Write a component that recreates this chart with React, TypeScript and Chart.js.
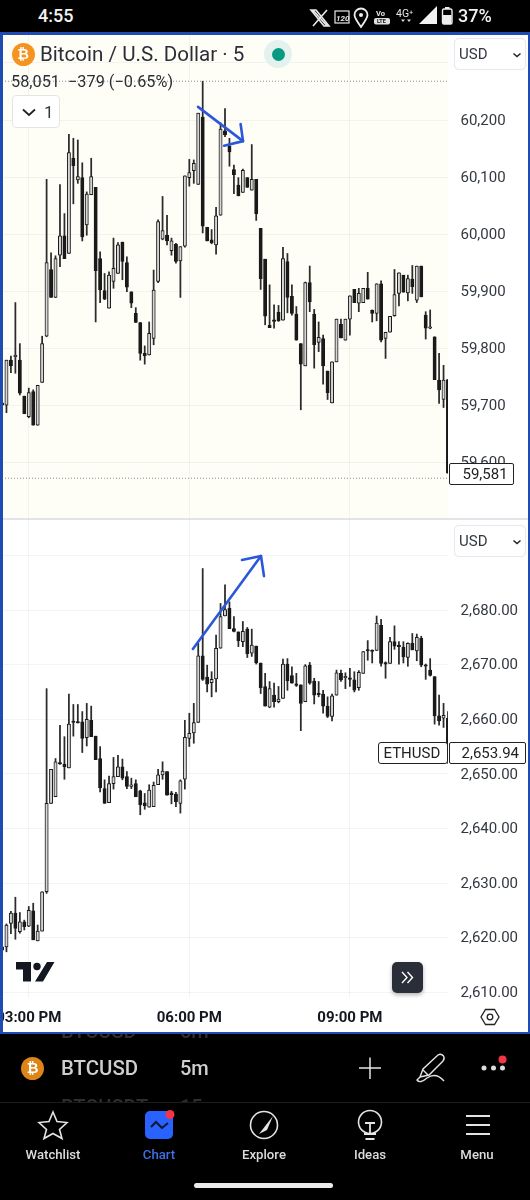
import React, { useEffect, useRef } from "react";
import { Chart, registerables } from "chart.js";

Chart.register(...registerables);

// Candle times run every five minutes; index 6 is 03:00 PM.
const tickLabels = ["03:00 PM", "06:00 PM", "09:00 PM"];
const candleTimes: string[] = Array.from({ length: 101 }, (_, i) => {
  const total = 14 * 60 + 30 + i * 5;
  const h = Math.floor(total / 60) % 12 || 12;
  const m = total % 60;
  return `${String(h).padStart(2, "0")}:${String(m).padStart(2, "0")} PM`;
});

const btcOpen = [
  59704,59700,59779,59785,59779,59716,59680,59724,59665,59740,
  59821,59938,59889,59963,59997,59966,60133,60095,60099,60016,
  60069,60082,59957,59901,59870,59917,59931,59986,59950,59899,
  59861,59845,59791,59788,59817,59917,59991,59998,59971,59982,
  59953,59979,60099,60111,60087,60205,60012,59990,59981,60033,
  60181,60154,60113,60086,60073,60099,60077,60096,60010,59956,
  59840,59848,59863,59849,59952,59891,59860,59808,59769,59915,
  59860,59810,59817,59760,59704,59776,59842,59814,59851,59903,
  59879,59880,59905,59867,59861,59913,59817,59828,59857,59896,
  59928,59897,59921,59884,59944,59858,59835,59820,59744,59710,
  59745,
];
const btcHigh = [
  59705,59779,59786,59880,59808,59716,59730,59727,59735,59821,
  60096,59967,59962,60087,60036,60175,60168,60165,60125,60074,
  60133,60082,59969,59931,59934,59993,59985,59986,59960,59899,
  59871,59845,59804,59846,59937,60025,60066,60033,59993,59984,
  59978,60102,60131,60130,60212,60268,60012,60008,60047,60195,
  60220,60168,60121,60099,60114,60099,60157,60096,60010,59956,
  59911,59876,59875,59977,59966,59911,59873,59808,59916,59944,
  59868,59846,59823,59760,59776,59851,59851,59851,59892,59903,
  59905,59905,59933,59867,59913,59918,59828,59856,59938,59932,
  59928,59928,59945,59944,59944,59864,59867,59820,59791,59770,
  59745,
];
const btcLow = [
  59698,59687,59757,59756,59718,59685,59678,59665,59665,59740,
  59820,59889,59889,59943,59957,59966,60053,60089,59988,59998,
  60069,59846,59880,59885,59870,59905,59931,59920,59899,59871,
  59845,59779,59772,59788,59806,59915,59990,59981,59963,59949,
  59889,59977,60084,60089,60087,60002,59988,59983,59965,60033,
  60171,60119,60071,60067,60073,60082,60077,60024,59903,59841,
  59836,59835,59847,59849,59862,59858,59814,59692,59769,59864,
  59765,59794,59737,59710,59704,59776,59818,59814,59823,59880,
  59864,59880,59886,59846,59848,59811,59782,59828,59856,59874,
  59898,59883,59896,59880,59890,59816,59834,59745,59703,59696,
  59581,
];
const btcClose = [
  59700,59779,59769,59785,59721,59685,59722,59665,59735,59808,
  59950,59889,59957,59997,59957,60143,60120,60101,59995,60070,
  60101,59936,59902,59886,59928,59940,59981,59952,59907,59879,
  59845,59791,59787,59826,59902,60022,60006,59988,59988,59952,
  59978,60102,60108,60124,60212,60014,59988,59985,60032,60184,
  60174,60144,60104,60067,60112,60082,60096,60036,59922,59856,
  59836,59847,59848,59957,59889,59861,59814,59772,59915,59881,
  59806,59819,59769,59722,59776,59851,59818,59851,59892,59880,
  59896,59905,59886,59861,59913,59814,59828,59856,59894,59932,
  59898,59922,59908,59944,59890,59835,59835,59745,59727,59744,
  59581,
];

const ethOpen = [
  2618.3,2618.3,2622.6,2624.5,2621.1,2622.9,2622.1,2624.9,2619.4,2621.2,
  2628.4,2644.6,2645.8,2652,2651.8,2651.1,2659.5,2659.4,2659.5,2656.6,
  2659.8,2656.9,2652.8,2647.3,2644.7,2648.2,2649.5,2651.3,2649.5,2647.7,
  2648.2,2646.9,2644.7,2643.9,2644,2648,2649.8,2650.4,2646.5,2646.3,
  2644.6,2649,2656.5,2657.5,2659.4,2671.6,2667.7,2666.7,2667.4,2673,
  2678.9,2680.3,2676.6,2676,2674.2,2676.5,2672.1,2673.4,2670.3,2666,
  2662.2,2664.4,2663.2,2663.8,2670.1,2668,2666.5,2666.3,2663.2,2669.9,
  2667,2664.7,2664.6,2662.4,2660.5,2664.4,2668.4,2667.6,2667.4,2667.2,
  2665.8,2668.4,2672.6,2672.5,2672.6,2677.2,2670.2,2670.2,2674.2,2673.4,
  2673.2,2671.3,2673.9,2672.5,2674.8,2669.8,2669,2667.8,2660.6,2660.2,
  2660.2,
];
const ethHigh = [
  2618.7,2622.5,2624.8,2627.4,2624.6,2623.2,2625.7,2626.3,2622.3,2628.4,
  2665.6,2650.8,2652.8,2658.9,2656.8,2664.6,2662.7,2662.7,2661.4,2662.9,
  2662.4,2656.9,2655,2648.9,2649.6,2653,2653.4,2652.7,2650.4,2649.2,
  2648.9,2647,2646.4,2648,2648.5,2650.8,2652.2,2650.4,2646.8,2646.6,
  2648.9,2659.8,2661.1,2662.9,2673.9,2687.6,2669.9,2668.7,2675.4,2681.2,
  2684.6,2681.5,2678.8,2676,2677.9,2676.8,2676.5,2673.4,2670.3,2668.4,
  2666.9,2666.6,2666,2671,2671.1,2669.6,2668.4,2666.3,2670,2670.4,
  2667.5,2666.9,2665.3,2664.1,2664.6,2669,2669,2668.5,2669.3,2668.7,
  2668.9,2672.4,2674.4,2672.7,2678.9,2678.3,2670.5,2675,2677.1,2674.2,
  2674.2,2674,2675.7,2675.6,2675.2,2670.1,2671.1,2667.8,2664.4,2662.9,
  2661.4,
];
const ethLow = [
  2617.3,2617.4,2620.7,2619.7,2620.8,2621.4,2622,2619.6,2619.4,2621.2,
  2628.1,2644.6,2645.8,2651.7,2649,2651.1,2656.9,2659.3,2653.9,2655.1,
  2656.8,2652.6,2646.7,2644.6,2644.7,2647.2,2649.5,2648.9,2647.3,2647.3,
  2645.8,2642.5,2643.5,2643.9,2644,2648,2649,2646.1,2644.5,2644,
  2642.8,2647.2,2655,2655.6,2659.4,2667.1,2665,2664.1,2665,2673,
  2678.9,2676.6,2676,2673.3,2673.3,2671.3,2671.5,2670.1,2664.7,2662.4,
  2662.1,2662.2,2663,2663.8,2665.3,2666.6,2666,2657.9,2663.2,2666.4,
  2662.8,2664.1,2661.1,2660.3,2659.7,2664.4,2666.9,2665.6,2666,2665,
  2665.3,2668.4,2670.8,2670.3,2672.6,2669.7,2667.5,2670.2,2672.8,2670.1,
  2670.3,2669.7,2672.7,2670.7,2669.6,2667.3,2667.9,2659.1,2658.9,2658.5,
  2651.9,
];
const ethClose = [
  2617.7,2622.3,2624.5,2621.7,2622.9,2622,2625,2619.6,2621.2,2628.4,
  2644.6,2650.8,2652.2,2651.8,2651.3,2659.1,2659.4,2659.3,2656.5,2660,
  2656.8,2652.6,2647.4,2644.6,2648.2,2649.5,2651.3,2649.2,2647.7,2648,
  2645.8,2644.3,2644.1,2647,2647.9,2649.8,2650.5,2646.1,2646.2,2644.9,
  2648.7,2656.7,2657.4,2659.4,2671.6,2667.3,2666.4,2667.3,2673,2678.8,
  2680.1,2676.6,2676.1,2674.4,2676.1,2672,2673.6,2670.3,2665.8,2662.4,
  2665.6,2663.2,2663.7,2670.1,2667,2666.6,2666.2,2662.9,2669.8,2666.6,
  2664.4,2664.5,2662.4,2660.5,2664.3,2668.5,2667.2,2667.6,2667.3,2665.3,
  2668.6,2672.4,2672.5,2672.4,2677.6,2670.2,2670.1,2674.2,2673.4,2673.3,
  2671.4,2673.9,2672.7,2675,2669.9,2669.7,2668,2660.6,2659.7,2660.7,
  2653.94,
];

// Session extremes drawn as dotted lines on the Bitcoin pane.
const btcSessionHigh = 60268;
const btcSessionLow = 59572;

// Hand-drawn arrows, as [candle index, price].
const btcArrowShaft = [[43.95, 60223], [54.04, 60163]];
const btcArrowHead = [[53.5, 60193], [54.04, 60163], [49.8, 60155]];
const ethArrowShaft = [[42.8, 2672.86], [58.07, 2689.9]];
const ethArrowHead = [[53.8, 2689.16], [58.07, 2689.9], [58.74, 2686.2]];

const hiddenBtcTicks = [60300];
const hiddenEthTicks = [2690];

const INK = "#1a1a1a";
const GRID = "rgba(42,46,57,0.055)";
const BLUE = "#2b57d9";
const UI = "Roboto, sans-serif";

function zeroPadding(scale: any) {
  scale.paddingLeft = 0;
  scale.paddingRight = 0;
  scale.paddingTop = 0;
  scale.paddingBottom = 0;
}

function buildChart(canvas: HTMLCanvasElement, cfg: any) {
  const { open, high, low, close, min, max, step, showTime, format, hidden, arrows, lines } = cfg;
  const isUp = open.map((o: number, i: number) => close[i] >= o);
  const arrowPlugin = {
    id: "arrows",
    afterDatasetsDraw(chart: any) {
      const { ctx, scales } = chart;
      ctx.save();
      ctx.strokeStyle = BLUE;
      ctx.lineWidth = 2.6;
      ctx.lineCap = "round";
      ctx.lineJoin = "round";
      for (const path of arrows) {
        ctx.beginPath();
        path.forEach((p: number[], k: number) => {
          const x = scales.x.getPixelForValue(p[0]);
          const y = scales.y.getPixelForValue(p[1]);
          if (k === 0) ctx.moveTo(x, y);
          else ctx.lineTo(x, y);
        });
        ctx.stroke();
      }
      ctx.restore();
    },
  };
  const lineSets = lines.map((value: number) => ({
    type: "line",
    data: candleTimes.map(() => value),
    borderColor: "#8a8a8a",
    borderWidth: 1,
    borderDash: [1, 2],
    pointRadius: 0,
    order: 0,
  }));
  return new Chart(canvas, {
    type: "bar",
    data: {
      labels: candleTimes,
      datasets: [
        {
          data: low.map((l: number, i: number) => [l, high[i]]),
          backgroundColor: "#2b2b2b",
          borderWidth: 0,
          barThickness: 1.1,
          grouped: false,
          order: 2,
        },
        {
          data: open.map((o: number, i: number) => [o, close[i]]),
          backgroundColor: isUp.map((u: boolean) => (u ? "#d6d6d6" : INK)),
          borderColor: INK,
          borderWidth: 1,
          borderSkipped: false,
          barThickness: 3.3,
          minBarLength: 1.5,
          grouped: false,
          order: 1,
        },
        ...lineSets,
      ],
    },
    plugins: [arrowPlugin],
    options: {
      animation: false,
      responsive: false,
      maintainAspectRatio: false,
      layout: { padding: { left: 2, right: 0, top: 0, bottom: 0 } },
      plugins: { legend: { display: false }, tooltip: { enabled: false } },
      scales: {
        x: {
          type: "category",
          offset: false,
          border: { display: false },
          grid: { offset: false, color: GRID, drawTicks: false },
          ticks: {
            display: showTime,
            autoSkip: false,
            maxRotation: 0,
            minRotation: 0,
            padding: 11,
            color: "#131722",
            font: { family: UI, size: 15, weight: "bold" },
          },
          afterBuildTicks(scale: any) {
            scale.ticks = scale.ticks.filter((t: any) => tickLabels.includes(candleTimes[t.value]));
          },
          afterFit(scale: any) {
            scale.height = showTime ? 35 : 0;
            zeroPadding(scale);
          },
        },
        y: {
          position: "right",
          min,
          max,
          border: { display: false },
          grid: { color: GRID, drawTicks: false },
          ticks: {
            stepSize: step,
            includeBounds: false,
            autoSkip: false,
            padding: 12.5,
            color: "#333840",
            // A two-line label with a 2px line height sets the text 1px below its gridline.
            font: { family: UI, size: 15, lineHeight: "2px" },
            callback: (v: number) => (hidden.includes(v) ? "" : ["", format(v)]),
          },
          afterFit(scale: any) {
            scale.width = 82;
            zeroPadding(scale);
          },
        },
      },
    },
  } as any);
}

const fmtBtc = (v: number) => v.toLocaleString("en-US");
const fmtEth = (v: number) =>
  v.toLocaleString("en-US", { minimumFractionDigits: 2, maximumFractionDigits: 2 });

function abs(left: number, top: number, width: number, height: number, extra: any = {}) {
  return { position: "absolute", left, top, width, height, boxSizing: "border-box", ...extra } as any;
}

function Txt({ x, y, size, color, weight, children, center, w }: any) {
  return (
    <div
      style={{
        position: "absolute",
        left: center ? x - 60 : x,
        top: y,
        width: center ? 120 : w,
        textAlign: center ? "center" : "left",
        fontFamily: UI,
        fontSize: size,
        color,
        fontWeight: weight || 400,
        lineHeight: 1,
        whiteSpace: "nowrap",
      }}
    >
      {children}
    </div>
  );
}

function BtcIcon({ x, y, r, color }: any) {
  return (
    <div
      style={abs(x - r, y - r, 2 * r, 2 * r, {
        borderRadius: "50%",
        background: color,
        color: "#fff",
        fontFamily: "DejaVu Sans, Roboto, sans-serif",
        fontWeight: 700,
        fontSize: r * 1.25,
        lineHeight: `${2 * r}px`,
        textAlign: "center",
      })}
    >
      ₿
    </div>
  );
}

function UsdButton({ top }: any) {
  return (
    <div
      style={abs(454, top, 72, 32, {
        background: "#fff",
        border: "1px solid #e6e8ee",
        borderRadius: 5,
        boxShadow: "0 0 1px #eee",
      })}
    >
      <Txt x={4} y={8} size={15} color="#333840">USD</Txt>
      <svg style={abs(57, 11, 10, 10)} viewBox="0 0 10 10">
        <path d="M1.5 3.5 L5 6.5 L8.5 3.5" fill="none" stroke="#222" strokeWidth="1.5" />
      </svg>
    </div>
  );
}

function StatusIcons() {
  return (
    <svg style={abs(300, 0, 190, 34)} viewBox="0 0 190 34">
      <path d="M13 10 L27 26 M27 10 L13 26 M11 10 H16 L29 26 H24 Z" fill="none" stroke="#e8e8e8" strokeWidth="1.6" />
      <rect x="35" y="11" width="14" height="12" fill="none" stroke="#e8e8e8" strokeWidth="1.2" />
      <text x="36" y="21" fontSize="8" fontStyle="italic" fontWeight="700" fill="#e8e8e8" fontFamily="Roboto">120</text>
      <path d="M61 27 C56 20 54.5 17.500 54.500 15 A6.5 6.500 0 0 1 67.500 15 C67.500 17.500 66 20 61 27 Z" fill="none" stroke="#eee" strokeWidth="1.8" />
      <circle cx="61" cy="15" r="2" fill="#eee" />
      <rect x="74" y="18" width="16" height="6.500" rx="2" fill="#e0e0e0" />
      <text x="76" y="16" fontSize="7.500" fill="#e8e8e8" fontFamily="Roboto" fontWeight="700">Vo</text>
      <text x="77" y="23" fontSize="5.500" fill="#111" fontFamily="Roboto" fontWeight="700">LTE</text>
      <text x="96" y="17" fontSize="10.500" fill="#e8e8e8" fontFamily="Roboto">4G⁺</text>
      <path d="M103 22 L101 19.500 H105 Z M109 22 L107 19.500 H111 Z" fill="#ddd" />
      <path d="M119 24 L137 6 V24 Z" fill="#f2f2f2" />
      <rect x="142.500" y="9" width="9.500" height="15" rx="1.500" fill="none" stroke="#eee" strokeWidth="1.400" />
      <rect x="143" y="15" width="8.500" height="9" fill="#eee" />
      <rect x="145" y="7" width="4.500" height="2" fill="#eee" />
    </svg>
  );
}

function NavIcons() {
  const s = "#e4e4e4";
  return (
    <svg style={abs(0, 1040, 530, 120)} viewBox="0 1040 530 120">
      <path d="M370 1057.500 V1079 M359 1068 H381" stroke={s} strokeWidth="1.500" />
      <path d="M420 1077 L423 1069 L438 1055 Q441 1053 443.500 1056 Q445 1058.500 443 1061 L429 1075 Z M423 1070 L428 1075 M420 1077 L417 1080 Q420 1084 427 1078 Q436 1072 444 1081" fill="none" stroke={s} strokeWidth="1.400" />
      <circle cx="484" cy="1068" r="2.500" fill="#ddd" />
      <circle cx="493.500" cy="1068" r="2.500" fill="#ddd" />
      <circle cx="502.500" cy="1068" r="2.500" fill="#ddd" />
      <circle cx="502.500" cy="1059.500" r="4" fill="#f23645" />
      <path d="M53 1112 L57 1121.500 L67 1122.500 L59.500 1129.500 L62 1138.500 L53 1133.500 L44 1138.500 L46.500 1129.500 L39 1122.500 L49 1121.500 Z" fill="none" stroke={s} strokeWidth="1.600" />
      <rect x="145" y="1111" width="28" height="28" rx="5" fill="#2962ff" />
      <path d="M151 1127 L156 1122 L162 1128 L168 1123" fill="none" stroke="#10162e" strokeWidth="2" />
      <circle cx="170" cy="1114.500" r="4.500" fill="#f23645" />
      <circle cx="264" cy="1125" r="13.500" fill="none" stroke={s} strokeWidth="1.600" />
      <path d="M273 1116 L267 1130 L259 1134 Z" fill={s} />
      <circle cx="370" cy="1122" r="11.500" fill="none" stroke={s} strokeWidth="1.600" />
      <path d="M365 1123 H375 M370 1123 V1133 M364 1134 H376 M365.500 1139 H374.500" fill="none" stroke={s} strokeWidth="1.800" />
      <path d="M466 1116 H490 M466 1125 H490 M466 1134 H490" stroke={s} strokeWidth="2" />
    </svg>
  );
}

export default function App() {
  const topRef = useRef<HTMLCanvasElement>(null);
  const bottomRef = useRef<HTMLCanvasElement>(null);

  useEffect(() => {
    document.body.style.margin = "0";
    document.body.style.background = "#000";
    const top = buildChart(topRef.current!, {
      open: btcOpen, high: btcHigh, low: btcLow, close: btcClose,
      min: 59502.3, max: 60350.8, step: 100, showTime: false,
      format: fmtBtc, hidden: hiddenBtcTicks,
      arrows: [btcArrowShaft, btcArrowHead],
      lines: [btcSessionHigh, btcSessionLow],
    });
    const bottom = buildChart(bottomRef.current!, {
      open: ethOpen, high: ethHigh, low: ethLow, close: ethClose,
      min: 2608.94, max: 2696.67, step: 10, showTime: true,
      format: fmtEth, hidden: hiddenEthTicks,
      arrows: [ethArrowShaft, ethArrowHead],
      lines: [],
    });
    return () => {
      top.destroy();
      bottom.destroy();
    };
  }, []);

  return (
    <div style={{ position: "relative", width: 530, height: 1200, background: "#000", overflow: "hidden" }}>
      {/* chart surface */}
      <div style={abs(0, 33, 530, 1001, { background: "#fff" })} />
      <div style={abs(2, 34, 446, 484, { background: "#fffef6" })} />
      <div style={abs(0, 518, 530, 1.5, { background: "#e3e4e8" })} />
      <canvas ref={topRef} width={530} height={484} style={abs(0, 34, 530, 484)} />
      <canvas ref={bottomRef} width={530} height={514} style={abs(0, 519, 530, 514)} />

      {/* blue frame */}
      <div style={abs(0, 32, 530, 2.5, { background: "#1f4bb5" })} />
      <div style={abs(0, 32, 2.5, 1002, { background: "#1f4bb5" })} />
      <div style={abs(528, 32, 2, 1002, { background: "#1f4bb5" })} />
      <div style={abs(0, 1032, 530, 2, { background: "#1f4bb5" })} />

      {/* status bar */}
      <Txt x={38} y={7} size={18} color="#f2f2f2" weight={500}>4:55</Txt>
      <StatusIcons />
      <Txt x={458} y={7} size={18} color="#f2f2f2" weight={500}>37%</Txt>

      {/* top pane header */}
      <BtcIcon x={23} y={54} r={11.5} color="#f6921e" />
      <Txt x={40} y={44} size={20.6} color="#2a2e39">Bitcoin / U.S. Dollar · 5</Txt>
      <div style={abs(264, 40, 28, 28, { borderRadius: "50%", background: "#e3f2ef" })} />
      <div style={abs(271.5, 47.5, 13, 13, { borderRadius: "50%", background: "#089981" })} />
      <Txt x={11} y={74} size={16.3} color="#2a2e39">58,051&nbsp;&nbsp;−379 (−0.65%)</Txt>
      <div style={abs(12, 95, 48, 33, { background: "#fff", border: "1px solid #e3e4e8", borderRadius: 4 })}>
        <svg style={abs(8, 8, 16, 16)} viewBox="0 0 16 16">
          <path d="M2 5.500 L8 11 L14 5.500" fill="none" stroke="#222" strokeWidth="1.800" />
        </svg>
        <Txt x={31} y={8} size={17} color="#333840">1</Txt>
      </div>
      <UsdButton top={38} />
      <UsdButton top={525} />

      {/* price labels */}
      <div style={abs(449, 462.5, 65, 22, { background: "#fff", border: "1.200px solid #222", borderRadius: 2 })}>
        <Txt x={12.5} y={3} size={15} color="#222">59,581</Txt>
      </div>
      <div style={abs(377.5, 741.5, 70.5, 22.500, { background: "#fff", border: "1.200px solid #222", borderRadius: 3 })}>
        <Txt x={5} y={3.500} size={15} color="#222">ETHUSD</Txt>
      </div>
      <div style={abs(449, 741.5, 76.5, 22.500, { background: "#fff", border: "1.200px solid #222", borderRadius: 2 })}>
        <Txt x={11.500} y={3} size={15} color="#222">2,653.94</Txt>
      </div>

      {/* bottom pane widgets */}
      <svg style={abs(15, 961, 40, 21)} viewBox="0 0 40 21">
        <path d="M1 1 H16 V20.500 H8 V8.500 H1 Z M32 1 H39.500 L28 20.500 H20 Z" fill="#131722" />
        <circle cx="22" cy="5.500" r="3.700" fill="#131722" />
      </svg>
      <div style={abs(391.5, 961.5, 31, 31, { background: "#2a2e39", borderRadius: 5, boxShadow: "0 2px 4px rgba(0,0,0,.3)" })}>
        <svg style={abs(7, 8, 17, 15)} viewBox="0 0 17 15">
          <path d="M3 2 L8 7.500 L3 13 M8.500 2 L13.500 7.500 L8.500 13" fill="none" stroke="#fff" strokeWidth="1.400" />
        </svg>
      </div>
      <svg style={abs(480, 1007, 20, 20)} viewBox="0 0 20 20">
        <path d="M5.500 2.500 H14.500 L19 10 L14.500 17.500 H5.500 L1 10 Z" fill="none" stroke="#222" strokeWidth="1.300" />
        <circle cx="10" cy="10" r="2.800" fill="none" stroke="#222" strokeWidth="1.300" />
      </svg>

      {/* bottom sheet */}
      <div style={abs(0, 1034, 530, 6, { overflow: "hidden" })}>
        <Txt x={61} y={-13} size={20} color="#2e2e2e" weight={500}>BTCUSD</Txt>
        <Txt x={180} y={-13} size={20} color="#2e2e2e" weight={500}>5m</Txt>
      </div>
      <BtcIcon x={32.5} y={1068} r={11.5} color="#dd8516" />
      <Txt x={61} y={1058} size={20.4} color="#cfcfcf" weight={500}>BTCUSD</Txt>
      <Txt x={180} y={1058} size={20} color="#cfcfcf" weight={500}>5m</Txt>
      <div style={abs(0, 1096, 530, 6, { overflow: "hidden" })}>
        <Txt x={61} y={1} size={20} color="#2e2e2e" weight={500}>BTCUSDT</Txt>
        <Txt x={180} y={1} size={20} color="#2e2e2e" weight={500}>15m</Txt>
      </div>
      <div style={abs(0, 1102, 530, 1, { background: "#1b1c22" })} />
      <NavIcons />
      <Txt x={53} y={1148} size={13.2} color="#dcdcdc" weight={500} center>Watchlist</Txt>
      <Txt x={159} y={1148} size={13.2} color="#3f6fe8" weight={500} center>Chart</Txt>
      <Txt x={264} y={1148} size={13.2} color="#dcdcdc" weight={500} center>Explore</Txt>
      <Txt x={370} y={1148} size={13.2} color="#dcdcdc" weight={500} center>Ideas</Txt>
      <Txt x={477} y={1148} size={13.2} color="#dcdcdc" weight={500} center>Menu</Txt>
      <div style={abs(194, 1183, 139, 5, { background: "#ececec", borderRadius: 3 })} />
    </div>
  );
}
